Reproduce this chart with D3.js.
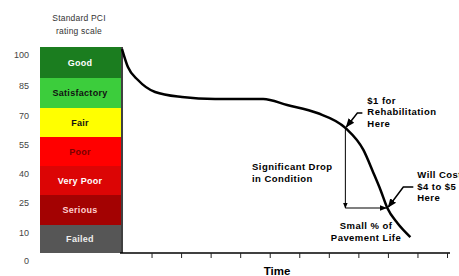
<!DOCTYPE html>
<html>
<head>
<meta charset="utf-8">
<script src="https://cdn.jsdelivr.net/npm/d3@7"></script>
<style>
  body { margin: 0; background: #fff; }
  svg { display: block; font-family: "Liberation Sans", Arial, sans-serif; }
</style>
</head>
<body>
<div id="chart"></div>
<script>
// rating scale bands (top to bottom)
var bandNames  = ["Good", "Satisfactory", "Fair", "Poor", "Very Poor", "Serious", "Failed"];
var bandTop    = [100, 85, 70, 55, 40, 25, 10];
var bandBottom = [85, 70, 55, 40, 25, 10, 0];
var bandColors = ["#1b7d1f", "#3ccd3c", "#ffff00", "#ff0000", "#dc0505", "#a30202", "#565656"];
var bandText   = ["#ffffff", "#111111", "#111111", "#7a0000", "#ffffff", "#ffd0d0", "#eeeeee"];
var yTicks = [100, 85, 70, 55, 40, 25, 10, 0];

// pavement condition curve: time vs PCI
var time = [0, 0.2, 0.54, 1.12, 2.03, 3.15, 4.78, 5.59, 6.61, 7.56, 8.17, 8.51, 8.75, 8.98, 9.32, 9.76];
var pci  = [99, 90.3, 84, 78, 75.5, 74.5, 74.5, 71.5, 67.4, 59.7, 48.3, 36.4, 27.6, 18.5, 11, 5.7];
var xTicks = [1, 2, 3, 4, 5, 6, 7, 8, 9, 10, 11];

// annotation anchors on the curve
var rehabPoint = [7.56, 59.7];
var costPoint  = [8.98, 18.5];

var W = 459, H = 276;
var svg = d3.select("#chart").append("svg")
    .attr("width", W)
    .attr("height", H);

var x = d3.scaleLinear().domain([0, 11]).range([122, 447]);
// the scale graphic gives each band equal height
var y = d3.scaleLinear()
    .domain([0, 10, 25, 40, 55, 70, 85, 100])
    .range([253, 225, 195, 166, 137, 108, 78, 47]);

var defs = svg.append("defs");
defs.append("marker")
    .attr("id", "arrow")
    .attr("viewBox", "0 0 10 10")
    .attr("refX", 9).attr("refY", 5)
    .attr("markerWidth", 6).attr("markerHeight", 6)
    .attr("orient", "auto-start-reverse")
    .append("path")
    .attr("d", "M0,1L10,5L0,9z")
    .attr("fill", "#000");

// legend title
svg.append("text")
    .attr("x", 79).attr("y", 21)
    .attr("text-anchor", "middle")
    .style("font-size", "8.5px")
    .style("letter-spacing", "0.2px")
    .attr("fill", "#333")
    .text("Standard PCI");
svg.append("text")
    .attr("x", 79).attr("y", 34)
    .attr("text-anchor", "middle")
    .style("font-size", "8.5px")
    .style("letter-spacing", "0.2px")
    .attr("fill", "#333")
    .text("rating scale");

// bands
var bands = svg.selectAll(".band")
    .data(bandNames)
    .enter().append("g")
    .attr("class", "band");

bands.append("rect")
    .attr("x", 40)
    .attr("width", 81)
    .attr("y", function(d, i) { return y(bandTop[i]); })
    .attr("height", function(d, i) { return y(bandBottom[i]) - y(bandTop[i]); })
    .style("fill", function(d, i) { return bandColors[i]; });

bands.append("text")
    .attr("x", 80)
    .attr("y", function(d, i) { return (y(bandTop[i]) + y(bandBottom[i])) / 2; })
    .attr("dy", "0.35em")
    .attr("text-anchor", "middle")
    .style("font-size", "9px")
    .style("font-weight", "bold")
    .style("letter-spacing", "0.3px")
    .attr("fill", function(d, i) { return bandText[i]; })
    .text(function(d) { return d; });

// y tick labels sit a little below each boundary
svg.selectAll(".ylab")
    .data(yTicks)
    .enter().append("text")
    .attr("class", "ylab")
    .attr("x", 29)
    .attr("y", function(d) { return y(d) + 8; })
    .attr("dy", "0.35em")
    .attr("text-anchor", "end")
    .style("font-size", "9px")
    .attr("fill", "#444")
    .text(function(d) { return d; });

// y axis line
svg.append("line")
    .attr("x1", x(0)).attr("x2", x(0))
    .attr("y1", y(100)).attr("y2", y(0))
    .attr("stroke", "#000").attr("stroke-width", 1.5);

// x axis
var xAxis = svg.append("g")
    .attr("transform", "translate(0," + y(0) + ")")
    .call(d3.axisBottom(x).tickValues(xTicks).tickSize(5).tickFormat(""));
xAxis.select(".domain").attr("d", "M" + (x(0) - 2) + ",0H" + (x(11) + 3)).attr("stroke-width", 1.5);
xAxis.selectAll(".tick line").attr("stroke", "#222");

svg.append("text")
    .attr("x", 277).attr("y", 275)
    .attr("text-anchor", "middle")
    .style("font-size", "11.5px")
    .style("font-weight", "bold")
    .text("Time");

// deterioration curve
var pts = time.map(function(t, i) { return [t, pci[i]]; });
svg.append("path")
    .datum(pts)
    .attr("fill", "none")
    .attr("stroke", "#000")
    .attr("stroke-width", 2.5)
    .attr("d", d3.line()
        .x(function(d) { return x(d[0]); })
        .y(function(d) { return y(d[1]); })
        .curve(d3.curveMonotoneX));

// drop arrows
var rx = x(rehabPoint[0]), ry = y(rehabPoint[1]);
var cx = x(costPoint[0]), cy = y(costPoint[1]);
svg.append("line")
    .attr("x1", rx).attr("y1", ry)
    .attr("x2", rx).attr("y2", cy)
    .attr("stroke", "#000").attr("stroke-width", 1)
    .attr("marker-end", "url(#arrow)");
svg.append("line")
    .attr("x1", rx).attr("y1", cy)
    .attr("x2", cx - 1).attr("y2", cy)
    .attr("stroke", "#000").attr("stroke-width", 1.2)
    .attr("marker-end", "url(#arrow)");

// leaders
svg.append("path")
    .attr("d", "M" + (rx + 17) + "," + (ry - 15) + "L" + (rx + 12) + "," + (ry - 15) + "L" + (rx + 1) + "," + (ry - 1))
    .attr("fill", "none").attr("stroke", "#000").attr("stroke-width", 1.5)
    .attr("marker-end", "url(#arrow)");
svg.append("path")
    .attr("d", "M" + (cx + 26) + "," + (cy - 21) + "L" + (cx + 16) + "," + (cy - 21) + "L" + (cx + 1) + "," + (cy - 1))
    .attr("fill", "none").attr("stroke", "#000").attr("stroke-width", 1.5)
    .attr("marker-end", "url(#arrow)");

function block(lines, px, py, anchor) {
    var t = svg.append("text")
        .attr("x", px).attr("y", py)
        .attr("text-anchor", anchor || "start")
        .style("font-size", "9.5px")
        .style("font-weight", "bold")
        .style("letter-spacing", "0.45px");
    lines.forEach(function(s, i) {
        t.append("tspan").attr("x", px).attr("dy", i ? 11.5 : 0).text(s);
    });
}
block(["$1 for", "Rehabilitation", "Here"], rx + 22, ry - 24);
block(["Will Cost", "$4 to $5", "Here"], cx + 30, cy - 30);
block(["Significant Drop", "in Condition"], 252, 170);
block(["Small % of", "Pavement Life"], 366, 229, "middle");
</script>
</body>
</html>
